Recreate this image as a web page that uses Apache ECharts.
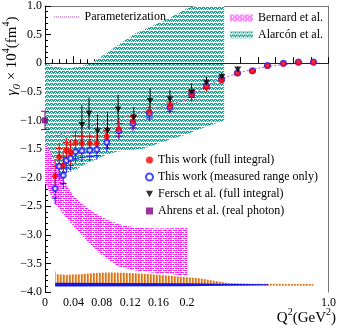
<!DOCTYPE html>
<html><head><meta charset="utf-8">
<script src="https://cdn.jsdelivr.net/npm/echarts@6/dist/echarts.min.js"></script>
<style>html,body{margin:0;padding:0;background:#fff}#c{width:339px;height:328px}</style>
</head><body><div id="c"></div>
<script>
// ---------------- data ----------------
const BREAK_Q = 0.2;           // x axis changes scale at Q^2 = 0.2
const yTicks = [1.0, 0.5, 0, -0.5, -1.0, -1.5, -2.0, -2.5, -3.0, -3.5, -4.0];
const xLowTicks = [0, 0.04, 0.08, 0.12, 0.16, 0.2];

// This work (full integral)
const redQ   = [0.0143,0.020,0.0257,0.030,0.036,0.043,0.052,0.063,0.073,0.087,0.104,0.124,0.147,0.176,0.226,0.31,0.395,0.485,0.57,0.655,0.745,0.83,0.915];
const redY   = [-1.97,-1.64,-1.79,-1.52,-1.56,-1.39,-1.40,-1.40,-1.40,-1.28,-1.15,-1.02,-0.85,-0.75,-0.55,-0.42,-0.30,-0.18,-0.14,-0.05,-0.01,0.01,0.01];
const redErr = [0.28,0.25,0.24,0.22,0.22,0.20,0.20,0.19,0.18,0.17,0.16,0.14,0.13,0.12,0.12,0.08,0.05,0.04,0.03,0.02,0.02,0.02,0.02];
// This work (measured range only)
const blueQ   = redQ;
const blueY   = [-2.19,-1.80,-1.96,-1.70,-1.66,-1.55,-1.53,-1.52,-1.51,-1.38,-1.18,-1.05,-0.88,-0.77,-0.54,-0.40,-0.28,-0.17,-0.13,-0.04,0.0,0.02,0.02];
const blueErr = [0.28,0.25,0.24,0.22,0.22,0.20,0.20,0.19,0.18,0.17,0.16,0.14,0.13,0.12,0.10,0.07,0.05,0.04,0.03,0.02,0.02,0.02,0.02];
// Fersch et al. (full integral)
const ferQ   = [0.052,0.062,0.074,0.088,0.103,0.125,0.148,0.176,0.226,0.31,0.397,0.487];
const ferY   = [-1.08,-0.88,-1.19,-1.18,-0.81,-0.95,-0.66,-0.63,-0.51,-0.34,-0.24,-0.11];
const ferErr = [0.34,0.28,0.29,0.32,0.26,0.18,0.22,0.16,0.15,0.10,0.07,0.05];
// Ahrens et al. (real photon)
const ahrQ = [0], ahrY = [-1.0], ahrErr = [0.16];
// Parameterization
const parQ = [0,0.05,0.1,0.15,0.2,0.25,0.3,0.4,0.5,0.6,0.7,0.8,0.9,0.95];
const parY = [-1.33,-1.15,-0.98,-0.81,-0.64,-0.51,-0.42,-0.27,-0.165,-0.09,-0.04,-0.01,0.0,0.0];
// Alarcón et al. band
const alaUpQ = [0,0.015,0.03,0.045,0.065,0.08,0.1,0.126,0.15,0.174,0.2,0.25,0.41];
const alaUpY = [0.0,-0.06,-0.09,-0.07,0.0,0.12,0.29,0.51,0.65,0.78,0.96,1.2,1.6];
const alaLoQ = [0,0.02,0.04,0.06,0.08,0.1,0.12,0.14,0.17,0.2,0.3,0.41];
const alaLoY = [-1.93,-1.96,-1.88,-1.75,-1.63,-1.55,-1.52,-1.49,-1.36,-1.24,-1.12,-1.0];
// Bernard et al. band
const berUpQ = [0,0.008,0.022,0.037,0.05,0.064,0.088,0.112,0.136,0.16,0.2];
const berUpY = [-1.39,-1.56,-1.96,-2.27,-2.44,-2.57,-2.74,-2.84,-2.88,-2.89,-2.88];
const berLoQ = [0,0.014,0.031,0.055,0.079,0.103,0.126,0.15,0.174,0.2];
const berLoY = [-2.1,-2.45,-2.72,-3.05,-3.35,-3.55,-3.62,-3.66,-3.68,-3.72];
// systematic error bands at the bottom
const sysOQ   = [0.0143,0.016,0.03,0.05,0.07,0.09,0.12,0.15,0.18,0.2,0.27,0.345,0.44,0.6,0.915];
const sysOTop = [-3.62,-3.69,-3.70,-3.69,-3.67,-3.66,-3.67,-3.69,-3.72,-3.74,-3.76,-3.80,-3.845,-3.855,-3.86];
const sysOBot = [-3.89,-3.89,-3.89,-3.89,-3.89,-3.89,-3.89,-3.89,-3.89,-3.89,-3.89,-3.89,-3.89,-3.89,-3.89];
const sysBQ   = [0.0143,0.2,0.4,0.66];
const sysBTop = [-3.84,-3.845,-3.855,-3.865];
const sysBBot = [-3.905,-3.9,-3.89,-3.88];

// ---------------- styling helpers ----------------
const FONT = 'Liberation Serif';
function makePattern(rows, colors){
  const h = rows.length, w = rows[0].length;
  const c = document.createElement('canvas'); c.width = w; c.height = h;
  const ctx = c.getContext('2d');
  for (let y = 0; y < h; y++) for (let x = 0; x < w; x++) {
    ctx.fillStyle = colors[rows[y][x]]; ctx.fillRect(x, y, 1, 1);
  }
  return {image: c, repeat: 'repeat'};
}
const tealFill = makePattern(['tttw','wtwt','wwww','twtt'], {t:'#1ea393', w:'#ffffff'});
const magFill  = makePattern(['mmmmw','wwwww','mmwmm','wwwww'], {m:'#ff1aff', w:'#ffffff'});
const orFill   = makePattern(['oOw'], {o:'#d5761f', O:'#e99a52', w:'#fbe6d0'});
let dotted = '';
for (let i = 0; i < 13; i++) dotted += 'M' + (i * 2) + ',0h1.2v1h-1.2z';
const dottedIcon = 'path://' + dotted;

const ranges = [[0, BREAK_Q], [BREAK_Q, 1.0]];
function inGrid(q, g){ return g === 0 ? (q >= ranges[0][0] && q <= ranges[0][1]) : (q > ranges[1][0] && q <= ranges[1][1]); }

function polySeries(name, upQ, upY, loQ, loY, fill, g, z){
  const pts = [];
  for (let i = 0; i < upQ.length; i++) pts.push([upQ[i], upY[i]]);
  for (let i = loQ.length - 1; i >= 0; i--) pts.push([loQ[i], loY[i]]);
  return {
    type: 'custom', name: name, xAxisIndex: g, yAxisIndex: g, z: z, silent: true,
    data: pts, encode: {x: 0, y: 1},
    renderItem: function(params, api){
      if (params.dataIndex !== 0) return null;
      const cs = params.coordSys;
      const poly = pts.map(function(p){
        const c = api.coord(p);
        return [Math.min(Math.max(c[0], cs.x), cs.x + cs.width), Math.min(Math.max(c[1], cs.y), cs.y + cs.height)];
      });
      return {type: 'polygon', shape: {points: poly}, style: {fill: fill, stroke: null}};
    }
  };
}

function errSeries(qs, ys, es, color, mode, g, z){
  const data = [];
  qs.forEach(function(q, i){ if (inGrid(q, g)) data.push([q, ys[i], es[i]]); });
  return {
    type: 'custom', xAxisIndex: g, yAxisIndex: g, z: z, silent: true, data: data, encode: {x: 0, y: 1},
    renderItem: function(params, api){
      const q = api.value(0), y = api.value(1), e = api.value(2);
      const a = api.coord([q, y - e]), b = api.coord([q, y + e]);
      const st = {stroke: color, lineWidth: 1};
      const ch = [{type: 'line', shape: {x1: a[0], y1: a[1], x2: b[0], y2: b[1]}, style: st}];
      if (mode === 'caps') {
        ch.push({type: 'line', shape: {x1: a[0]-4, y1: a[1], x2: a[0]+4, y2: a[1]}, style: st});
        ch.push({type: 'line', shape: {x1: b[0]-4, y1: b[1], x2: b[0]+4, y2: b[1]}, style: st});
      } else if (mode === 'up' || mode === 'down') {
        const t = api.coord([q, y + (mode === 'up' ? 0.6 : -0.6) * e]);
        ch.push({type: 'line', shape: {x1: t[0]-3.5, y1: t[1], x2: t[0]+3.5, y2: t[1]}, style: st});
      }
      return {type: 'group', children: ch};
    }
  };
}

function scatterSeries(name, qs, ys, symbol, size, style, g, z, clip){
  const data = [];
  qs.forEach(function(q, i){ if (inGrid(q, g)) data.push([q, ys[i]]); });
  return {type: 'scatter', name: name, xAxisIndex: g, yAxisIndex: g, z: z, data: data,
    symbol: symbol, symbolSize: size, itemStyle: style, clip: clip !== false, silent: true};
}

function fmtY(v){
  if (Math.abs(v) < 1e-9) return '0';
  return (v < 0 ? '\u2212' : '') + Math.abs(v).toFixed(1);
}
function fmtXLow(v){
  const r = Math.round(v * 100) / 100;
  if (r === 0) return '0';
  if (Math.abs(r - 0.2) < 1e-9) return '0.2';
  return xLowTicks.indexOf(r) >= 0 ? r.toFixed(2) : '';
}

const labelStyle = {fontFamily: FONT, fontSize: 12, color: '#000'};
const triPath = 'path://M0,0 L10,0 L5,9 Z';

const series = [];
for (let g = 0; g < 2; g++) {
  series.push(polySeries('Alarcón et al.', alaUpQ, alaUpY, alaLoQ, alaLoY, tealFill, g, 1));
  series.push(polySeries('Bernard et al.', berUpQ, berUpY, berLoQ, berLoY, magFill, g, 2));
  series.push(polySeries('sysO', sysOQ, sysOTop, sysOQ, sysOBot, orFill, g, 3));
  series.push(polySeries('sysB', sysBQ, sysBTop, sysBQ, sysBBot, '#1414e6', g, 3));
  series.push({
    type: 'line', name: 'Parameterization', xAxisIndex: g, yAxisIndex: g, z: 4, silent: true,
    data: parQ.map(function(q, i){ return [q, parY[i]]; }), symbol: 'none', clip: true, smooth: 0.3,
    lineStyle: {color: '#b24fc4', width: 1, type: [2, 2]}, itemStyle: {color: '#b24fc4'},
    markLine: {silent: true, symbol: 'none', label: {show: false}, animation: false,
      lineStyle: {color: '#222', type: 'solid', width: 1}, data: [{yAxis: 0}]}
  });
  series.push(errSeries(ferQ, ferY, ferErr, '#000', 'none', g, 5));
  series.push(errSeries(blueQ, blueY, blueErr, '#1a1aff', 'down', g, 6));
  series.push(errSeries(redQ, redY, redErr, '#ff0000', 'up', g, 6));
  series.push(scatterSeries('This work (measured range only)', blueQ, blueY, 'emptyCircle', 5,
    {color: '#1a1aff', borderColor: '#1a1aff', borderWidth: 1}, g, 7));
  series.push(scatterSeries('This work (full integral)', redQ, redY, 'circle', 6, {color: '#ff0000'}, g, 8));
  series.push(scatterSeries('Fersch et al. (full integral)', ferQ, ferY, triPath, [7, 6], {color: '#000'}, g, 9));
}
series.push(errSeries(ahrQ, ahrY, ahrErr, '#800080', 'caps', 0, 6));
series.push(scatterSeries('Ahrens et al. (real photon)', ahrQ, ahrY, 'rect', 6, {color: '#800080'}, 0, 9, false));

const option = {
  animation: false,
  backgroundColor: '#fff',
  grid: [
    {left: 45, top: 6, width: 142, height: 286},
    {left: 187, top: 6, width: 145, height: 286}
  ],
  xAxis: [
    {gridIndex: 0, type: 'value', min: 0, max: BREAK_Q, interval: 0.04, position: 'bottom',
      axisLine: {lineStyle: {color: '#000'}}, axisTick: {inside: true, length: 7, lineStyle: {color: '#000'}},
      minorTick: {show: true, splitNumber: 4, length: 4, lineStyle: {color: '#000'}},
      splitLine: {show: false},
      axisLabel: Object.assign({margin: 5, formatter: fmtXLow, showMinLabel: true, showMaxLabel: true}, labelStyle)},
    {gridIndex: 1, type: 'value', min: BREAK_Q, max: 1.0, interval: 0.1, position: 'bottom',
      axisLine: {lineStyle: {color: '#000'}}, axisTick: {inside: true, length: 6, lineStyle: {color: '#000'}},
      splitLine: {show: false},
      axisLabel: Object.assign({margin: 5, showMaxLabel: true,
        formatter: function(v){ return Math.abs(v - 1) < 1e-9 ? '1.0' : ''; }}, labelStyle)},
    {gridIndex: 0, type: 'value', min: 0, max: BREAK_Q, position: 'top',
      axisLine: {lineStyle: {color: '#777'}}, axisTick: {show: false}, axisLabel: {show: false}, splitLine: {show: false}},
    {gridIndex: 1, type: 'value', min: BREAK_Q, max: 1.0, position: 'top',
      axisLine: {lineStyle: {color: '#777'}}, axisTick: {show: false}, axisLabel: {show: false}, splitLine: {show: false}}
  ],
  yAxis: [
    {gridIndex: 0, type: 'value', min: -4, max: 1, interval: 0.5, position: 'left',
      axisLine: {show: true, lineStyle: {color: '#000'}}, axisTick: {show: true, inside: true, length: 6, lineStyle: {color: '#000'}},
      minorTick: {show: true, splitNumber: 5, length: 3, lineStyle: {color: '#000'}},
      splitLine: {show: false},
      axisLabel: Object.assign({margin: 3, formatter: fmtY, showMinLabel: true, showMaxLabel: true}, labelStyle)},
    {gridIndex: 1, type: 'value', min: -4, max: 1, interval: 0.5, position: 'right',
      axisLine: {show: true, lineStyle: {color: '#777'}}, axisTick: {show: false}, axisLabel: {show: false}, splitLine: {show: false}}
  ],
  legend: [
    {data: [{name: 'Parameterization', icon: dottedIcon, itemStyle: {color: '#b24fc4'}}],
      left: 54, top: 11, itemWidth: 26, itemHeight: 1, padding: 0, selectedMode: false,
      textStyle: {fontFamily: FONT, fontSize: 12, color: '#000', lineHeight: 12}},
    {data: [{name: 'Bernard et al.', icon: 'rect', itemStyle: {color: magFill}},
            {name: 'Alarcón et al.', icon: 'rect', itemStyle: {color: tealFill}}],
      orient: 'vertical', left: 230, top: 12, itemWidth: 23, itemHeight: 7, itemGap: 5, padding: 0, selectedMode: false,
      textStyle: {fontFamily: FONT, fontSize: 12, color: '#000', lineHeight: 12}},
    {data: ['This work (full integral)', 'This work (measured range only)', 'Fersch et al. (full integral)', 'Ahrens et al. (real photon)'],
      orient: 'vertical', left: 145, top: 154, itemWidth: 7, itemHeight: 7, itemGap: 5, padding: 0, selectedMode: false,
      textStyle: {fontFamily: FONT, fontSize: 12, color: '#000', lineHeight: 12}}
  ],
  graphic: [
    {type: 'text', x: 12, y: 56, rotation: Math.PI / 2, silent: true,
      style: {text: '{g|γ}{s|0} × 10{p|4}(fm{p|4})', fill: '#000', align: 'center', verticalAlign: 'middle',
        font: '15px "Liberation Serif"',
        rich: {
          g: {fontFamily: FONT, fontSize: 15, fontStyle: 'italic', lineHeight: 18},
          s: {fontFamily: FONT, fontSize: 11, fontStyle: 'italic', verticalAlign: 'bottom', lineHeight: 14},
          p: {fontFamily: FONT, fontSize: 10, verticalAlign: 'top', lineHeight: 22}
        }}},
    {type: 'text', x: 336, y: 318, silent: true,
      style: {text: 'Q{p|2}(GeV{p|2})', fill: '#000', align: 'right', verticalAlign: 'middle',
        font: '15px "Liberation Serif"',
        rich: {p: {fontFamily: FONT, fontSize: 10, verticalAlign: 'top', lineHeight: 22}}}}
  ],
  series: series
};
const chart = echarts.init(document.getElementById('c'), null, {renderer: 'canvas'});
chart.setOption(option);
</script></body></html>
